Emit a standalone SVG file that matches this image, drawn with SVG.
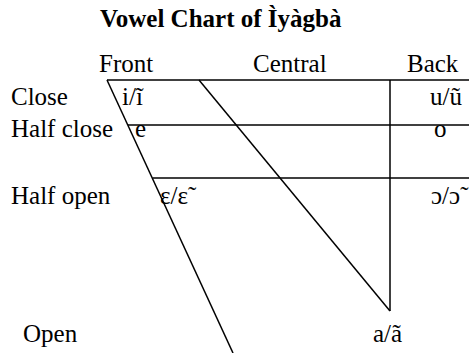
<svg xmlns="http://www.w3.org/2000/svg" width="469" height="353" viewBox="0 0 469 353" font-family="'Liberation Serif', 'DejaVu Serif', serif">
<style>
text{font-family:'Liberation Serif','Times New Roman',serif;font-size:25px;fill:#000}
.title{font-weight:bold}
line{stroke:#000;stroke-width:1.5}
</style>
<rect width="469" height="353" fill="#fff"/>
<text class="title" x="100" y="27">Vowel Chart of Ìyàgbà</text>
<g id="headers">
<text x="99" y="72">Front</text>
<text x="253" y="72">Central</text>
<text x="407" y="72">Back</text>
</g>
<g id="rows">
<text x="11" y="105">Close</text>
<text x="11" y="137">Half close</text>
<text x="11" y="204">Half open</text>
<text x="23" y="342">Open</text>
</g>
<g id="connectors">
<line x1="107" y1="80" x2="469" y2="80"/>
<line x1="128" y1="125" x2="469" y2="125"/>
<line x1="152.5" y1="178" x2="469" y2="178"/>
<line x1="107" y1="80" x2="233" y2="353"/>
<line x1="199" y1="80" x2="390" y2="311"/>
<line x1="390" y1="80" x2="390" y2="311"/>
</g>
<g id="vowels">
<text x="122" y="105">i/ĩ</text>
<text x="430" y="105">u/ũ</text>
<text x="135" y="137">e</text>
<text x="434" y="137">o</text>
<text x="160" y="204">ɛ/ɛ̃</text>
<text x="431" y="204">ɔ/ɔ̃</text>
<text x="373" y="342">a/ã</text>
</g>
</svg>
